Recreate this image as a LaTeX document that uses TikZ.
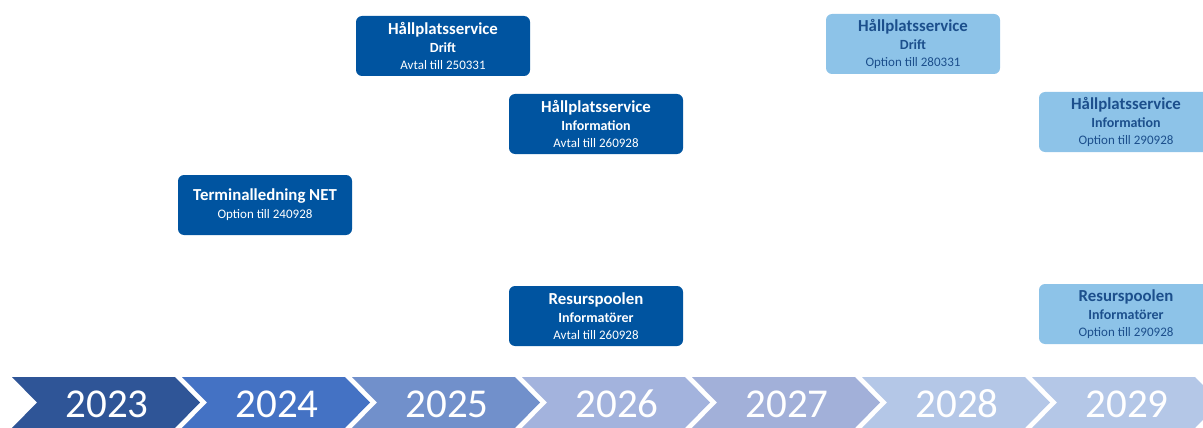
\documentclass[tikz,border=0pt]{standalone}
\usepackage{fontspec}
\setmainfont{Carlito}
\usepackage{xcolor}
\usetikzlibrary{positioning}

\definecolor{avtalblue}{HTML}{0054A0}
\definecolor{optionblue}{HTML}{8DC3E8}
\definecolor{optiontext}{HTML}{1C4F8C}
\definecolor{yr1}{HTML}{2F5597}
\definecolor{yr2}{HTML}{4472C4}
\definecolor{yr3}{HTML}{7190CB}
\definecolor{yr4}{HTML}{A3B3DD}
\definecolor{yr5}{HTML}{A2B0D9}
\definecolor{yr6}{HTML}{B4C7E7}
\definecolor{yr7}{HTML}{B4C7E7}

\newcommand{\btitle}[1]{{\fontsize{16.8}{18}\selectfont\bfseries #1}}
\newcommand{\bsub}[1]{{\fontsize{14}{17}\selectfont\bfseries #1}}

\begin{document}
\begin{tikzpicture}[x = 1pt, y = -1pt,
  avtal/.style = {fill = avtalblue, text = white, rounded corners = 6pt,
    minimum width = 174pt, minimum height = 60pt, align = center,
    inner sep = 2pt, font = \fontsize{13}{16}\selectfont},
  option/.style = {avtal, fill = optionblue, text = optiontext},
  year/.style = {text = white, font = \fontsize{41}{41}\selectfont}]
\useasboundingbox (0,0) rectangle (1203,428);
\clip (0,0) rectangle (1203,428);
% tidslinje
\foreach \i/\yr in {0/2023, 1/2024, 2/2025, 3/2026, 4/2027, 5/2028, 6/2029}{
\pgfmathsetmacro{\xl}{12+170*\i}
\fill[yr\the\numexpr\i+1\relax] (\xl,377) -- (\xl+163,377) -- (\xl+188,402.5)
  -- (\xl+163,428) -- (\xl,428) -- (\xl+25,402.5) -- cycle;
\node[year] (y\yr) at (\xl+95,404) {\yr};
}
% avtal
\node[avtal] (driftA) at (443,46) {\btitle{Hållplatsservice}\\[2pt]\bsub{Drift}\\[1pt]Avtal till 250331};
\node[avtal] (infoA) at (596,124) {\btitle{Hållplatsservice}\\[2pt]\bsub{Information}\\[1pt]Avtal till 260928};
\node[avtal] (net) at (265,205) {\btitle{Terminalledning NET}\\[2pt]Option till 240928};
\node[avtal] (resA) at (596,316) {\btitle{Resurspoolen}\\[2pt]\bsub{Informatörer}\\[1pt]Avtal till 260928};
% optioner
\node[option] (driftO) at (913,44) {\btitle{Hållplatsservice}\\[2pt]\bsub{Drift}\\[1pt]Option till 280331};
\node[option] (infoO) at (1126,122) {\btitle{Hållplatsservice}\\[2pt]\bsub{Information}\\[1pt]Option till 290928};
\node[option] (resO) at (1126,314) {\btitle{Resurspoolen}\\[2pt]\bsub{Informatörer}\\[1pt]Option till 290928};
\end{tikzpicture}
\end{document}
